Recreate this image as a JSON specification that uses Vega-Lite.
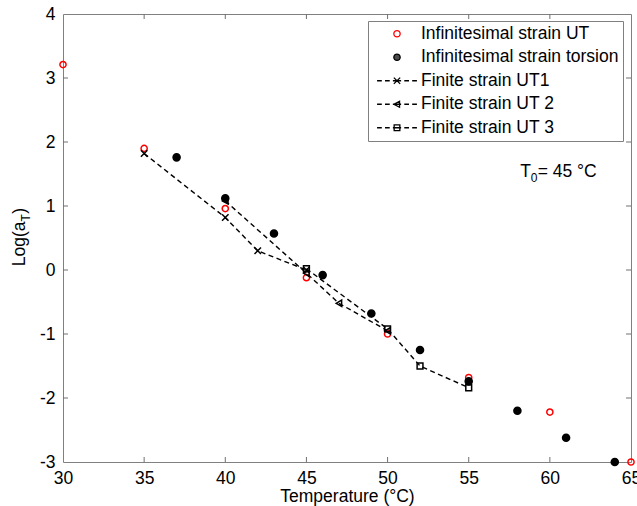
{
  "$schema": "https://vega.github.io/schema/vega-lite/v6.json",
  "width": 568,
  "height": 448,
  "autosize": {"type": "none"},
  "padding": {"left": 63, "top": 14, "right": 6, "bottom": 44},
  "background": "white",
  "config": {
    "view": {"stroke": null},
    "font": "Liberation Sans",
    "axis": {
      "grid": false,
      "ticks": false,
      "domainColor": "#808080",
      "labelColor": "black",
      "titleColor": "black",
      "labelFont": "Liberation Sans",
      "titleFont": "Liberation Sans",
      "labelFontSize": 17.5,
      "titleFontSize": 17.5,
      "titleFontWeight": "normal",
      "domainWidth": 1,
      "labelFlush": false,
      "labelOverlap": false
    },
    "legend": {
      "orient": "none",
      "legendX": 305,
      "legendY": 7,
      "labelFont": "Liberation Sans",
      "labelFontSize": 17.5,
      "labelColor": "black",
      "labelLimit": 400,
      "padding": 4,
      "rowPadding": 4.5,
      "symbolSize": 40,
      "symbolOffset": 16.25,
      "labelOffset": 15.25,
      "strokeColor": "#808080",
      "fillColor": "white",
      "symbolStrokeWidth": 1.3
    }
  },
  "datasets": {
    "pts": [
      {"series": "Infinitesimal strain UT", "T": 30, "v": 3.21},
      {"series": "Infinitesimal strain UT", "T": 35, "v": 1.9},
      {"series": "Infinitesimal strain UT", "T": 40, "v": 0.96},
      {"series": "Infinitesimal strain UT", "T": 45, "v": -0.12},
      {"series": "Infinitesimal strain UT", "T": 50, "v": -1.0},
      {"series": "Infinitesimal strain UT", "T": 55, "v": -1.68},
      {"series": "Infinitesimal strain UT", "T": 60, "v": -2.22},
      {"series": "Infinitesimal strain UT", "T": 65, "v": -3.0},
      {"series": "Infinitesimal strain torsion", "T": 37, "v": 1.76},
      {"series": "Infinitesimal strain torsion", "T": 40, "v": 1.12},
      {"series": "Infinitesimal strain torsion", "T": 43, "v": 0.57},
      {"series": "Infinitesimal strain torsion", "T": 46, "v": -0.08},
      {"series": "Infinitesimal strain torsion", "T": 49, "v": -0.68},
      {"series": "Infinitesimal strain torsion", "T": 52, "v": -1.25},
      {"series": "Infinitesimal strain torsion", "T": 55, "v": -1.74},
      {"series": "Infinitesimal strain torsion", "T": 58, "v": -2.2},
      {"series": "Infinitesimal strain torsion", "T": 61, "v": -2.62},
      {"series": "Infinitesimal strain torsion", "T": 64, "v": -3.0},
      {"series": "Finite strain UT1", "T": 35, "v": 1.82},
      {"series": "Finite strain UT1", "T": 40, "v": 0.82},
      {"series": "Finite strain UT1", "T": 42, "v": 0.3},
      {"series": "Finite strain UT1", "T": 45, "v": 0.0},
      {"series": "Finite strain UT 2", "T": 40, "v": 1.08},
      {"series": "Finite strain UT 2", "T": 45, "v": -0.05},
      {"series": "Finite strain UT 2", "T": 47, "v": -0.52},
      {"series": "Finite strain UT 2", "T": 50, "v": -0.95},
      {"series": "Finite strain UT 3", "T": 45, "v": 0.02},
      {"series": "Finite strain UT 3", "T": 50, "v": -0.92},
      {"series": "Finite strain UT 3", "T": 52, "v": -1.5},
      {"series": "Finite strain UT 3", "T": 55, "v": -1.84}
    ],
    "ticks": [
      {"x": 35, "y": -3, "side": "bottom"}, {"x": 40, "y": -3, "side": "bottom"}, {"x": 45, "y": -3, "side": "bottom"}, {"x": 50, "y": -3, "side": "bottom"}, {"x": 55, "y": -3, "side": "bottom"}, {"x": 60, "y": -3, "side": "bottom"},
      {"x": 35, "y": 4, "side": "top"}, {"x": 40, "y": 4, "side": "top"}, {"x": 45, "y": 4, "side": "top"}, {"x": 50, "y": 4, "side": "top"}, {"x": 55, "y": 4, "side": "top"}, {"x": 60, "y": 4, "side": "top"},
      {"x": 30, "y": -2, "side": "left"}, {"x": 30, "y": -1, "side": "left"}, {"x": 30, "y": 0, "side": "left"}, {"x": 30, "y": 1, "side": "left"}, {"x": 30, "y": 2, "side": "left"}, {"x": 30, "y": 3, "side": "left"},
      {"x": 65, "y": -2, "side": "right"}, {"x": 65, "y": -1, "side": "right"}, {"x": 65, "y": 0, "side": "right"}, {"x": 65, "y": 1, "side": "right"}, {"x": 65, "y": 2, "side": "right"}, {"x": 65, "y": 3, "side": "right"}
    ],
    "notes": [
      {"part": "ymain", "x": 27.67, "y": 0.06, "t": "Log(a"},
      {"part": "ysub", "x": 27.67, "y": 0.06, "t": "T"},
      {"part": "yclose", "x": 27.67, "y": 0.06, "t": ")"},
      {"part": "tmain", "x": 58.17, "y": 1.46, "t": "T"},
      {"part": "tsub", "x": 58.17, "y": 1.46, "t": "0"},
      {"part": "trest", "x": 58.17, "y": 1.46, "t": "= 45 °C"}
    ]
  },
  "layer": [
    {
      "data": {"name": "ticks"},
      "transform": [{"filter": "datum.side === 'bottom'"}],
      "mark": {"type": "tick", "orient": "vertical", "size": 5, "thickness": 1, "color": "#707070", "opacity": 1, "yOffset": -2.5},
      "encoding": {
        "x": {"field": "x", "type": "quantitative", "scale": {"domain": [30, 65], "nice": false, "zero": false},
              "axis": {"orient": "top", "labels": false, "title": null, "values": [30, 35, 40, 45, 50, 55, 60, 65]}},
        "y": {"field": "y", "type": "quantitative", "scale": {"domain": [-3, 4], "nice": false, "zero": false},
              "axis": {"orient": "right", "labels": false, "title": null, "values": [-3, -2, -1, 0, 1, 2, 3, 4]}}
      }
    },
    {
      "data": {"name": "ticks"},
      "transform": [{"filter": "datum.side === 'top'"}],
      "mark": {"type": "tick", "orient": "vertical", "size": 5, "thickness": 1, "color": "#707070", "opacity": 1, "yOffset": 2.5},
      "encoding": {
        "x": {"field": "x", "type": "quantitative", "scale": {"domain": [30, 65], "nice": false, "zero": false}, "axis": null},
        "y": {"field": "y", "type": "quantitative", "scale": {"domain": [-3, 4], "nice": false, "zero": false}, "axis": null}
      }
    },
    {
      "data": {"name": "ticks"},
      "transform": [{"filter": "datum.side === 'left'"}],
      "mark": {"type": "tick", "orient": "horizontal", "size": 5, "thickness": 1, "color": "#707070", "opacity": 1, "xOffset": 2.5},
      "encoding": {
        "x": {"field": "x", "type": "quantitative", "scale": {"domain": [30, 65], "nice": false, "zero": false}, "axis": null},
        "y": {"field": "y", "type": "quantitative", "scale": {"domain": [-3, 4], "nice": false, "zero": false}, "axis": null}
      }
    },
    {
      "data": {"name": "ticks"},
      "transform": [{"filter": "datum.side === 'right'"}],
      "mark": {"type": "tick", "orient": "horizontal", "size": 5, "thickness": 1, "color": "#707070", "opacity": 1, "xOffset": -2.5},
      "encoding": {
        "x": {"field": "x", "type": "quantitative", "scale": {"domain": [30, 65], "nice": false, "zero": false}, "axis": null},
        "y": {"field": "y", "type": "quantitative", "scale": {"domain": [-3, 4], "nice": false, "zero": false}, "axis": null}
      }
    },
    {
      "data": {"name": "pts"},
      "transform": [{"filter": "indexof(datum.series, 'Finite') === 0"}],
      "mark": {"type": "line", "color": "black", "strokeDash": [5, 3.5], "strokeWidth": 1.4},
      "encoding": {
        "x": {"field": "T", "type": "quantitative", "scale": {"domain": [30, 65], "nice": false, "zero": false}, "axis": null},
        "y": {"field": "v", "type": "quantitative", "scale": {"domain": [-3, 4], "nice": false, "zero": false}, "axis": null},
        "detail": {"field": "series", "type": "nominal"},
        "order": {"field": "T", "type": "quantitative"}
      }
    },
    {
      "data": {"name": "pts"},
      "mark": {"type": "point", "strokeWidth": 1.5},
      "encoding": {
        "x": {"field": "T", "type": "quantitative", "scale": {"domain": [30, 65], "nice": false, "zero": false},
              "axis": {"orient": "bottom", "title": "Temperature (°C)", "values": [30, 35, 40, 45, 50, 55, 60, 65], "labelPadding": 7, "titlePadding": 1, "labelExpr": "'' + datum.value"}},
        "y": {"field": "v", "type": "quantitative", "scale": {"domain": [-3, 4], "nice": false, "zero": false},
              "axis": {"orient": "left", "title": null, "values": [-3, -2, -1, 0, 1, 2, 3, 4], "labelPadding": 8, "labelExpr": "'' + datum.value"}},
        "shape": {
          "field": "series", "type": "nominal",
          "scale": {
            "domain": ["Infinitesimal strain UT", "Infinitesimal strain torsion", "Finite strain UT1", "Finite strain UT 2", "Finite strain UT 3"],
            "range": ["circle", "circle", "M-1,-1L1,1M-1,1L1,-1", "triangle-left", "square"]
          },
          "legend": null
        },
        "fill": {
          "field": "series", "type": "nominal",
          "scale": {
            "domain": ["Infinitesimal strain UT", "Infinitesimal strain torsion", "Finite strain UT1", "Finite strain UT 2", "Finite strain UT 3"],
            "range": ["transparent", "black", "transparent", "transparent", "transparent"]
          },
          "legend": null
        },
        "stroke": {
          "field": "series", "type": "nominal",
          "scale": {
            "domain": ["Infinitesimal strain UT", "Infinitesimal strain torsion", "Finite strain UT1", "Finite strain UT 2", "Finite strain UT 3"],
            "range": ["red", "black", "black", "black", "black"]
          },
          "legend": null
        },
        "size": {
          "field": "series", "type": "nominal",
          "scale": {
            "type": "ordinal",
            "domain": ["Infinitesimal strain UT", "Infinitesimal strain torsion", "Finite strain UT1", "Finite strain UT 2", "Finite strain UT 3"],
            "range": [38, 50, 42, 40, 34]
          },
          "legend": null
        },
        "opacity": {
          "field": "series", "type": "nominal",
          "sort": ["Infinitesimal strain UT", "Infinitesimal strain torsion", "Finite strain UT1", "Finite strain UT 2", "Finite strain UT 3"],
          "scale": {"range": [1, 1]},
          "legend": {
            "title": null, "orient": "none", "legendX": 305, "legendY": 7,
            "encode": {"symbols": {"update": {
              "shape": {"signal": "datum.value === 'Finite strain UT1' ? 'M-6.3,0H-4.8M-3.8,0H-2.3M-1.3,0H1.3M2.3,0H3.8M4.8,0H6.3M-1,-1L1,1M-1,1L1,-1' : datum.value === 'Finite strain UT 2' ? 'M-6.3,0H-4.8M-3.8,0H-2.3M-1.3,0H1.3M2.3,0H3.8M4.8,0H6.3M-1,0L0.8,-0.95L0.8,0.95Z' : datum.value === 'Finite strain UT 3' ? 'M-6.3,0H-4.8M-3.8,0H-2.3M-1.3,0H1.3M2.3,0H3.8M4.8,0H6.3M-0.9,-0.9H0.9V0.9H-0.9Z' : 'circle'"},
              "fill": {"signal": "datum.value === 'Infinitesimal strain torsion' ? 'black' : 'transparent'"},
              "stroke": {"signal": "datum.value === 'Infinitesimal strain UT' ? 'red' : 'black'"},
              "size": {"value": 40},
              "strokeWidth": {"value": 1.3}
            }}},
            "encoding": {"symbols": {
              "shape": {"value": {"expr": "datum.value === 'Finite strain UT1' ? 'M-6.3,0H-4.8M-3.8,0H-2.3M-1.3,0H1.3M2.3,0H3.8M4.8,0H6.3M-1,-1L1,1M-1,1L1,-1' : datum.value === 'Finite strain UT 2' ? 'M-6.3,0H-4.8M-3.8,0H-2.3M-1.3,0H1.3M2.3,0H3.8M4.8,0H6.3M-1,0L0.8,-0.95L0.8,0.95Z' : datum.value === 'Finite strain UT 3' ? 'M-6.3,0H-4.8M-3.8,0H-2.3M-1.3,0H1.3M2.3,0H3.8M4.8,0H6.3M-0.9,-0.9H0.9V0.9H-0.9Z' : 'circle'"}},
              "fill": {"value": {"expr": "datum.value === 'Infinitesimal strain torsion' ? 'black' : 'transparent'"}},
              "stroke": {"value": {"expr": "datum.value === 'Infinitesimal strain UT' ? 'red' : 'black'"}},
              "size": {"value": 40},
              "strokeWidth": {"value": 1.3}
            }}
          }
        }
      }
    },
    {
      "data": {"name": "notes"},
      "transform": [{"filter": "datum.part === 'ymain'"}],
      "mark": {"type": "text", "angle": 270, "align": "left", "baseline": "alphabetic", "fontSize": 17.5, "font": "Liberation Sans", "color": "black"},
      "encoding": {
        "x": {"field": "x", "type": "quantitative", "scale": {"domain": [30, 65], "nice": false, "zero": false}, "axis": null},
        "y": {"field": "y", "type": "quantitative", "scale": {"domain": [-3, 4], "nice": false, "zero": false}, "axis": null},
        "text": {"field": "t"}
      }
    },
    {
      "data": {"name": "notes"},
      "transform": [{"filter": "datum.part === 'ysub'"}],
      "mark": {"type": "text", "angle": 270, "align": "left", "baseline": "alphabetic", "fontSize": 12, "font": "Liberation Sans", "color": "black", "dx": 44.7, "dy": 4.5},
      "encoding": {
        "x": {"field": "x", "type": "quantitative", "scale": {"domain": [30, 65], "nice": false, "zero": false}, "axis": null},
        "y": {"field": "y", "type": "quantitative", "scale": {"domain": [-3, 4], "nice": false, "zero": false}, "axis": null},
        "text": {"field": "t"}
      }
    },
    {
      "data": {"name": "notes"},
      "transform": [{"filter": "datum.part === 'yclose'"}],
      "mark": {"type": "text", "angle": 270, "align": "left", "baseline": "alphabetic", "fontSize": 17.5, "font": "Liberation Sans", "color": "black", "dx": 52.3},
      "encoding": {
        "x": {"field": "x", "type": "quantitative", "scale": {"domain": [30, 65], "nice": false, "zero": false}, "axis": null},
        "y": {"field": "y", "type": "quantitative", "scale": {"domain": [-3, 4], "nice": false, "zero": false}, "axis": null},
        "text": {"field": "t"}
      }
    },
    {
      "data": {"name": "notes"},
      "transform": [{"filter": "datum.part === 'tmain'"}],
      "mark": {"type": "text", "align": "left", "baseline": "alphabetic", "fontSize": 17.5, "font": "Liberation Sans", "color": "black"},
      "encoding": {
        "x": {"field": "x", "type": "quantitative", "scale": {"domain": [30, 65], "nice": false, "zero": false}, "axis": null},
        "y": {"field": "y", "type": "quantitative", "scale": {"domain": [-3, 4], "nice": false, "zero": false}, "axis": null},
        "text": {"field": "t"}
      }
    },
    {
      "data": {"name": "notes"},
      "transform": [{"filter": "datum.part === 'tsub'"}],
      "mark": {"type": "text", "align": "left", "baseline": "alphabetic", "fontSize": 12, "font": "Liberation Sans", "color": "black", "dx": 10.5, "dy": 5},
      "encoding": {
        "x": {"field": "x", "type": "quantitative", "scale": {"domain": [30, 65], "nice": false, "zero": false}, "axis": null},
        "y": {"field": "y", "type": "quantitative", "scale": {"domain": [-3, 4], "nice": false, "zero": false}, "axis": null},
        "text": {"field": "t"}
      }
    },
    {
      "data": {"name": "notes"},
      "transform": [{"filter": "datum.part === 'trest'"}],
      "mark": {"type": "text", "align": "left", "baseline": "alphabetic", "fontSize": 17.5, "font": "Liberation Sans", "color": "black", "dx": 17.5},
      "encoding": {
        "x": {"field": "x", "type": "quantitative", "scale": {"domain": [30, 65], "nice": false, "zero": false}, "axis": null},
        "y": {"field": "y", "type": "quantitative", "scale": {"domain": [-3, 4], "nice": false, "zero": false}, "axis": null},
        "text": {"field": "t"}
      }
    }
  ],
  "resolve": {"axis": {"x": "independent", "y": "independent"}}
}
